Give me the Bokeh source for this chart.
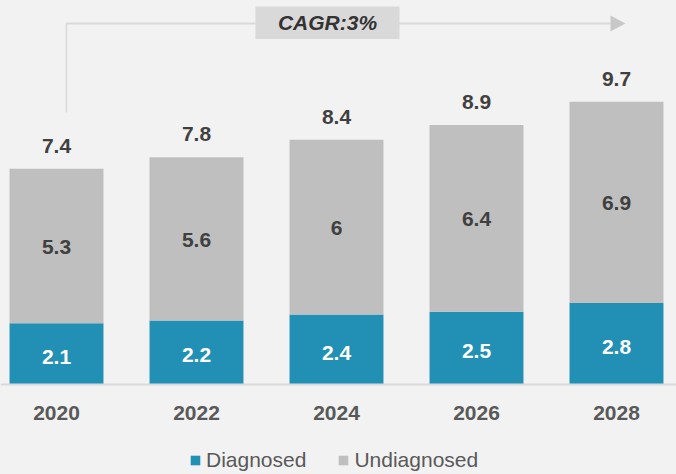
from bokeh.plotting import figure
from bokeh.models import Range1d, Legend, LegendItem, ColumnDataSource, Span
from bokeh.embed import file_html
from bokeh.resources import INLINE
from bokeh.core.properties import value

# ---- data ----
years = ["2020", "2022", "2024", "2026", "2028"]
diagnosed = [2.1, 2.2, 2.4, 2.5, 2.8]
undiagnosed = [5.3, 5.6, 6.0, 6.4, 6.9]
totals = [7.4, 7.8, 8.4, 8.9, 9.7]
cagr_text = "CAGR:3%"

BLUE = "#2290b5"
GREY = "#bfbfbf"
BG = "#f2f2f2"
FONT = value("Liberation Sans")
FS = "21px"

x = list(range(len(years)))
src = ColumnDataSource(dict(
    x=x,
    year=years,
    zero=[0] * len(x),
    d=diagnosed,
    u_top=[a + b for a, b in zip(diagnosed, undiagnosed)],
    d_mid=[a / 2 for a in diagnosed],
    u_mid=[a + b / 2 for a, b in zip(diagnosed, undiagnosed)],
    tot=totals,
    d_lab=[f"{v:g}" for v in diagnosed],
    u_lab=[f"{v:g}" for v in undiagnosed],
    t_lab=[f"{v:g}" for v in totals],
))

p = figure(width=676, height=474, output_backend="svg", toolbar_location=None,
           x_range=Range1d(-0.4, 4.4286), y_range=Range1d(-3.087, 13.173),
           min_border_left=0, min_border_right=0, min_border_top=0,
           min_border_bottom=0,
           background_fill_color=BG, border_fill_color=BG,
           outline_line_color=None)
p.xgrid.visible = False
p.ygrid.visible = False
p.xaxis.visible = False
p.yaxis.visible = False

bw = 0.671
r_d = p.vbar(x="x", bottom=0, top="d", width=bw, source=src,
             fill_color=BLUE, line_color=None)
r_u = p.vbar(x="x", bottom="d", top="u_top", width=bw, source=src,
             fill_color=GREY, line_color=None)

p.add_layout(Span(location=0, dimension="width", line_color="#d9d9d9",
                  line_width=2))

common = dict(source=src, text_font=FONT, text_font_style="bold",
              text_font_size=FS, text_align="center",
              text_baseline="middle")
p.text(x="x", y="d_mid", text="d_lab", text_color="white", y_offset=3, **common)
p.text(x="x", y="u_mid", text="u_lab", text_color="#404040", y_offset=1, **common)
p.text(x="x", y="tot", text="t_lab", text_color="#404040", y_offset=-23, **common)
# category labels (x axis)
p.text(x="x", y="zero", text="year", text_color="#595959", y_offset=28, **common)

# ---- CAGR connector ----
y_line = 12.38
x_start = x[0] + 0.071
x_arrow = x[-1] - 0.043
p.segment(x0=[x_start], y0=[9.33], x1=[x_start], y1=[y_line],
          line_color="#d9d9d9", line_width=1.5)
p.segment(x0=[x_start], y0=[y_line], x1=[x_arrow], y1=[y_line],
          line_color="#d9d9d9", line_width=2)
p.patch(x=[x_arrow, x_arrow + 0.107, x_arrow], y=[12.66, y_line, 12.11],
        fill_color="#c8c8c8", line_color=None)
p.quad(left=[1.421], right=[2.450], bottom=[11.85], top=[12.97],
       fill_color="#d9d9d9", line_color=None)
p.text(x=[1.936], y=[12.41], text=[cagr_text], text_font=FONT,
       text_font_style="bold italic", text_font_size=FS,
       text_color="#333333", text_align="center", text_baseline="middle")

legend = Legend(items=[LegendItem(label="Diagnosed", renderers=[r_d]),
                       LegendItem(label="Undiagnosed", renderers=[r_u])],
                orientation="horizontal", location=(189, 2),
                glyph_width=12, glyph_height=12, label_standoff=5, spacing=31,
                label_text_font="Liberation Sans", label_text_font_size=FS,
                label_text_color="#595959", label_height=12,
                background_fill_alpha=0, border_line_color=None,
                padding=0, margin=0)
p.add_layout(legend, "center")

html = file_html(p, INLINE)
html = html.replace("<body>", '<body style="background-color:#f2f2f2;">')
open("out.html", "w").write(html)
